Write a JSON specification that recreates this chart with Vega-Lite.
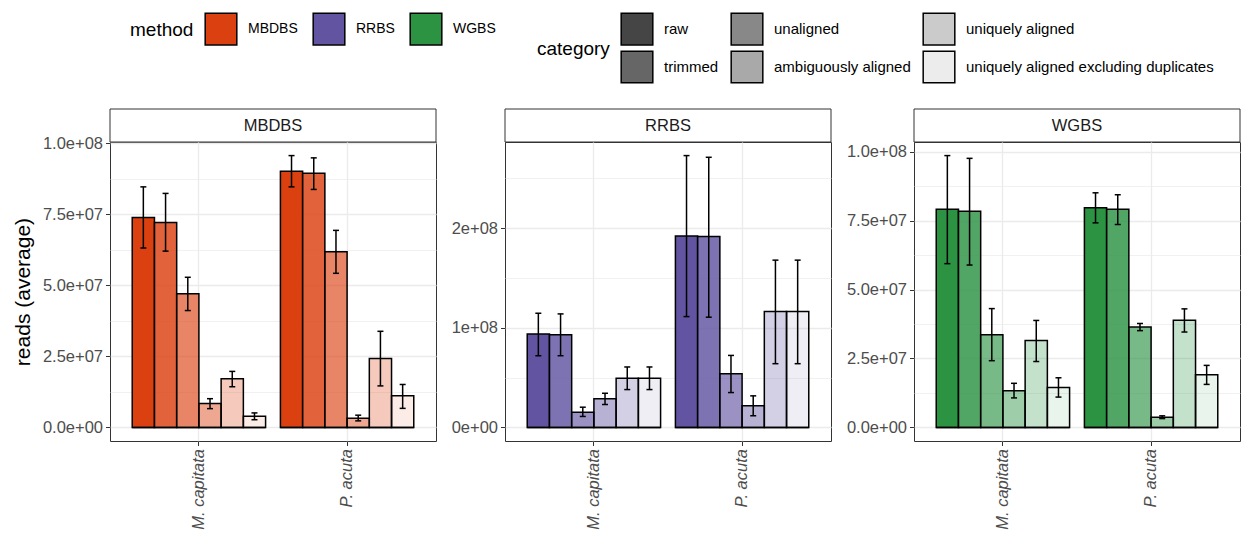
{
  "$schema": "https://vega.github.io/schema/vega-lite/v6.json",
  "background": "white",
  "padding": {"left": 11, "top": 12, "right": 0, "bottom": 0},
  "spacing": 13,
  "datasets": {
    "reads": [
      {"method": "MBDBS", "species": "M. capitata", "category": "raw", "reads": 73800000, "lo": 63100000, "hi": 84600000},
      {"method": "MBDBS", "species": "M. capitata", "category": "trimmed", "reads": 72100000, "lo": 62000000, "hi": 82300000},
      {"method": "MBDBS", "species": "M. capitata", "category": "unaligned", "reads": 47000000, "lo": 41100000, "hi": 52800000},
      {"method": "MBDBS", "species": "M. capitata", "category": "ambiguously aligned", "reads": 8400000, "lo": 6600000, "hi": 10100000},
      {"method": "MBDBS", "species": "M. capitata", "category": "uniquely aligned", "reads": 17100000, "lo": 14300000, "hi": 19700000},
      {"method": "MBDBS", "species": "M. capitata", "category": "uniquely aligned excluding duplicates", "reads": 3950000, "lo": 2700000, "hi": 5100000},
      {"method": "MBDBS", "species": "P. acuta", "category": "raw", "reads": 90100000, "lo": 84600000, "hi": 95600000},
      {"method": "MBDBS", "species": "P. acuta", "category": "trimmed", "reads": 89400000, "lo": 83700000, "hi": 94800000},
      {"method": "MBDBS", "species": "P. acuta", "category": "unaligned", "reads": 61800000, "lo": 54200000, "hi": 69300000},
      {"method": "MBDBS", "species": "P. acuta", "category": "ambiguously aligned", "reads": 3250000, "lo": 2300000, "hi": 4300000},
      {"method": "MBDBS", "species": "P. acuta", "category": "uniquely aligned", "reads": 24200000, "lo": 14600000, "hi": 33800000},
      {"method": "MBDBS", "species": "P. acuta", "category": "uniquely aligned excluding duplicates", "reads": 11100000, "lo": 6700000, "hi": 15100000},
      {"method": "RRBS", "species": "M. capitata", "category": "raw", "reads": 93700000, "lo": 72000000, "hi": 114700000},
      {"method": "RRBS", "species": "M. capitata", "category": "trimmed", "reads": 93000000, "lo": 72000000, "hi": 114000000},
      {"method": "RRBS", "species": "M. capitata", "category": "unaligned", "reads": 15300000, "lo": 11000000, "hi": 20300000},
      {"method": "RRBS", "species": "M. capitata", "category": "ambiguously aligned", "reads": 28700000, "lo": 23000000, "hi": 34300000},
      {"method": "RRBS", "species": "M. capitata", "category": "uniquely aligned", "reads": 49300000, "lo": 38000000, "hi": 60700000},
      {"method": "RRBS", "species": "M. capitata", "category": "uniquely aligned excluding duplicates", "reads": 49300000, "lo": 38000000, "hi": 60700000},
      {"method": "RRBS", "species": "P. acuta", "category": "raw", "reads": 192300000, "lo": 111300000, "hi": 273000000},
      {"method": "RRBS", "species": "P. acuta", "category": "trimmed", "reads": 191700000, "lo": 110700000, "hi": 271300000},
      {"method": "RRBS", "species": "P. acuta", "category": "unaligned", "reads": 54000000, "lo": 35000000, "hi": 72300000},
      {"method": "RRBS", "species": "P. acuta", "category": "ambiguously aligned", "reads": 21700000, "lo": 11700000, "hi": 31700000},
      {"method": "RRBS", "species": "P. acuta", "category": "uniquely aligned", "reads": 116300000, "lo": 64000000, "hi": 168000000},
      {"method": "RRBS", "species": "P. acuta", "category": "uniquely aligned excluding duplicates", "reads": 116300000, "lo": 64000000, "hi": 168000000},
      {"method": "WGBS", "species": "M. capitata", "category": "raw", "reads": 79100000, "lo": 59400000, "hi": 98600000},
      {"method": "WGBS", "species": "M. capitata", "category": "trimmed", "reads": 78400000, "lo": 58900000, "hi": 97600000},
      {"method": "WGBS", "species": "M. capitata", "category": "unaligned", "reads": 33600000, "lo": 24200000, "hi": 43100000},
      {"method": "WGBS", "species": "M. capitata", "category": "ambiguously aligned", "reads": 13300000, "lo": 10700000, "hi": 16000000},
      {"method": "WGBS", "species": "M. capitata", "category": "uniquely aligned", "reads": 31500000, "lo": 23900000, "hi": 38800000},
      {"method": "WGBS", "species": "M. capitata", "category": "uniquely aligned excluding duplicates", "reads": 14500000, "lo": 11000000, "hi": 18000000},
      {"method": "WGBS", "species": "P. acuta", "category": "raw", "reads": 79700000, "lo": 74200000, "hi": 85100000},
      {"method": "WGBS", "species": "P. acuta", "category": "trimmed", "reads": 79100000, "lo": 73600000, "hi": 84400000},
      {"method": "WGBS", "species": "P. acuta", "category": "unaligned", "reads": 36400000, "lo": 35100000, "hi": 37700000},
      {"method": "WGBS", "species": "P. acuta", "category": "ambiguously aligned", "reads": 3700000, "lo": 3200000, "hi": 4200000},
      {"method": "WGBS", "species": "P. acuta", "category": "uniquely aligned", "reads": 38900000, "lo": 34600000, "hi": 43000000},
      {"method": "WGBS", "species": "P. acuta", "category": "uniquely aligned excluding duplicates", "reads": 19100000, "lo": 15600000, "hi": 22500000}
    ]
  },
  "data": {"name": "reads"},
  "hconcat": [
    {
      "bounds": "flush",
      "spacing": 0,
      "vconcat": [
        {
          "width": 326, "height": 33,
          "transform": [{"filter": "datum.method === 'MBDBS'"}, {"aggregate": [{"op": "count", "as": "n"}], "groupby": ["method"]}],
          "layer": [
            {"mark": {"type": "rect", "fill": "white", "stroke": "#333333", "strokeWidth": 1}, "encoding": {}},
            {"mark": {"type": "text", "fontSize": 16.5, "color": "#1a1a1a"}, "encoding": {"text": {"field": "method"}}}
          ]
        },
        {
          "width": 326, "height": 299,
          "transform": [{"filter": "datum.method === 'MBDBS'"}],
          "layer": [
            {
              "mark": {"type": "bar", "stroke": "black", "strokeWidth": 1.5},
              "encoding": {
                "x": {"field": "species", "type": "nominal", "scale": {"paddingInner": 0.1, "paddingOuter": 0.15}, "axis": {"title": null, "labelAngle": -90, "labelFontStyle": "italic", "bandPosition": 0.5, "grid": true}},
                "xOffset": {"field": "category", "type": "nominal", "scale": {"domain": ["raw", "trimmed", "unaligned", "ambiguously aligned", "uniquely aligned", "uniquely aligned excluding duplicates"], "paddingInner": 0, "paddingOuter": 0}},
                "y": {"field": "reads", "type": "quantitative", "scale": {"domain": [-4780000, 100380000], "nice": false, "zero": false}, "axis": {"title": "reads (average)", "titlePadding": 9, "titleFontSize": 21, "values": [0, 25000000, 50000000, 75000000, 100000000], "labelExpr": "replace(format(datum.value, '.1e'), 'e+', 'e+0')", "grid": true}},
                "y2": {"datum": 0},
                "color": {"field": "method", "type": "nominal", "scale": {"domain": ["MBDBS", "RRBS", "WGBS"], "range": ["#DA4010", "#6254A1", "#2C9343"]}, "legend": {"title": "method", "orient": "none", "legendX": 20, "legendY": -97, "direction": "horizontal", "titleOrient": "left", "titleAnchor": "middle", "titleBaseline": "middle", "titlePadding": 10, "symbolType": "square", "symbolSize": 1000, "symbolStrokeColor": "black", "symbolStrokeWidth": 1.5, "columnPadding": 12, "labelOffset": 10}},
                "fillOpacity": {"field": "category", "type": "nominal", "scale": {"type": "ordinal", "domain": ["raw", "trimmed", "unaligned", "ambiguously aligned", "uniquely aligned", "uniquely aligned excluding duplicates"], "range": [1, 0.82, 0.64, 0.46, 0.28, 0.1]}, "legend": null}
              }
            },
            {
              "mark": {"type": "bar", "stroke": "black", "strokeWidth": 1.5},
              "encoding": {
                "x": {"field": "species", "type": "nominal"},
                "xOffset": {"field": "category", "type": "nominal"},
                "y": {"datum": 0, "type": "quantitative", "axis": null},
                "y2": {"datum": 0},
                "fill": {"field": "category", "type": "nominal", "scale": {"domain": ["raw", "trimmed", "unaligned", "ambiguously aligned", "uniquely aligned", "uniquely aligned excluding duplicates"], "range": ["#454545", "#666666", "#888888", "#a9a9a9", "#cbcbcb", "#ececec"]}, "legend": {"title": "category", "orient": "none", "legendX": 427, "legendY": -97, "columns": 3, "titleOrient": "left", "titleAnchor": "middle", "titleBaseline": "middle", "titlePadding": 10, "symbolType": "square", "symbolSize": 1000, "symbolStrokeColor": "black", "symbolStrokeWidth": 1.5, "rowPadding": 0, "columnPadding": 9, "labelOffset": 10, "labelLimit": 400, "labelFontSize": 15}}
              }
            },
            {
              "mark": {"type": "rule", "color": "black", "strokeWidth": 1.5},
              "encoding": {
                "x": {"field": "species", "type": "nominal"},
                "xOffset": {"field": "category", "type": "nominal"},
                "y": {"field": "lo", "type": "quantitative", "axis": {"title": null, "values": [12500000, 37500000, 62500000, 87500000], "labels": false, "ticks": false, "domain": false, "grid": true, "gridWidth": 0.7, "orient": "left"}},
                "y2": {"field": "hi"}
              }
            },
            {
              "mark": {"type": "tick", "color": "black", "size": 6, "thickness": 1.5, "opacity": 1},
              "encoding": {
                "x": {"field": "species", "type": "nominal"},
                "xOffset": {"field": "category", "type": "nominal"},
                "y": {"field": "lo", "type": "quantitative", "axis": null}
              }
            },
            {
              "mark": {"type": "tick", "color": "black", "size": 6, "thickness": 1.5, "opacity": 1},
              "encoding": {
                "x": {"field": "species", "type": "nominal"},
                "xOffset": {"field": "category", "type": "nominal"},
                "y": {"field": "hi", "type": "quantitative", "axis": null}
              }
            }
          ],
          "resolve": {"axis": {"y": "independent"}}
        }
      ]
    },
    {
      "bounds": "flush",
      "spacing": 0,
      "vconcat": [
        {
          "width": 326, "height": 33,
          "transform": [{"filter": "datum.method === 'RRBS'"}, {"aggregate": [{"op": "count", "as": "n"}], "groupby": ["method"]}],
          "layer": [
            {"mark": {"type": "rect", "fill": "white", "stroke": "#333333", "strokeWidth": 1}, "encoding": {}},
            {"mark": {"type": "text", "fontSize": 16.5, "color": "#1a1a1a"}, "encoding": {"text": {"field": "method"}}}
          ]
        },
        {
          "width": 326, "height": 299,
          "transform": [{"filter": "datum.method === 'RRBS'"}],
          "layer": [
            {
              "mark": {"type": "bar", "stroke": "black", "strokeWidth": 1.5},
              "encoding": {
                "x": {"field": "species", "type": "nominal", "scale": {"paddingInner": 0.1, "paddingOuter": 0.15}, "axis": {"title": null, "labelAngle": -90, "labelFontStyle": "italic", "bandPosition": 0.5, "grid": true}},
                "xOffset": {"field": "category", "type": "nominal", "scale": {"domain": ["raw", "trimmed", "unaligned", "ambiguously aligned", "uniquely aligned", "uniquely aligned excluding duplicates"], "paddingInner": 0, "paddingOuter": 0}},
                "y": {"field": "reads", "type": "quantitative", "scale": {"domain": [-13650000, 286650000], "nice": false, "zero": false}, "axis": {"title": null, "values": [0, 100000000, 200000000], "labelExpr": "replace(format(datum.value, '.0e'), 'e+', 'e+0')", "grid": true}},
                "y2": {"datum": 0},
                "color": {"field": "method", "type": "nominal", "scale": {"domain": ["MBDBS", "RRBS", "WGBS"], "range": ["#DA4010", "#6254A1", "#2C9343"]}, "legend": {"title": "method", "orient": "none", "legendX": 20, "legendY": -97, "direction": "horizontal", "titleOrient": "left", "titleAnchor": "middle", "titleBaseline": "middle", "titlePadding": 10, "symbolType": "square", "symbolSize": 1000, "symbolStrokeColor": "black", "symbolStrokeWidth": 1.5, "columnPadding": 12, "labelOffset": 10}},
                "fillOpacity": {"field": "category", "type": "nominal", "scale": {"type": "ordinal", "domain": ["raw", "trimmed", "unaligned", "ambiguously aligned", "uniquely aligned", "uniquely aligned excluding duplicates"], "range": [1, 0.82, 0.64, 0.46, 0.28, 0.1]}, "legend": null}
              }
            },
            {
              "mark": {"type": "bar", "stroke": "black", "strokeWidth": 1.5},
              "encoding": {
                "x": {"field": "species", "type": "nominal"},
                "xOffset": {"field": "category", "type": "nominal"},
                "y": {"datum": 0, "type": "quantitative", "axis": null},
                "y2": {"datum": 0},
                "fill": {"field": "category", "type": "nominal", "scale": {"domain": ["raw", "trimmed", "unaligned", "ambiguously aligned", "uniquely aligned", "uniquely aligned excluding duplicates"], "range": ["#454545", "#666666", "#888888", "#a9a9a9", "#cbcbcb", "#ececec"]}, "legend": {"title": "category", "orient": "none", "legendX": 427, "legendY": -97, "columns": 3, "titleOrient": "left", "titleAnchor": "middle", "titleBaseline": "middle", "titlePadding": 10, "symbolType": "square", "symbolSize": 1000, "symbolStrokeColor": "black", "symbolStrokeWidth": 1.5, "rowPadding": 0, "columnPadding": 9, "labelOffset": 10, "labelLimit": 400, "labelFontSize": 15}}
              }
            },
            {
              "mark": {"type": "rule", "color": "black", "strokeWidth": 1.5},
              "encoding": {
                "x": {"field": "species", "type": "nominal"},
                "xOffset": {"field": "category", "type": "nominal"},
                "y": {"field": "lo", "type": "quantitative", "axis": {"title": null, "values": [50000000, 150000000, 250000000], "labels": false, "ticks": false, "domain": false, "grid": true, "gridWidth": 0.7, "orient": "left"}},
                "y2": {"field": "hi"}
              }
            },
            {
              "mark": {"type": "tick", "color": "black", "size": 6, "thickness": 1.5, "opacity": 1},
              "encoding": {
                "x": {"field": "species", "type": "nominal"},
                "xOffset": {"field": "category", "type": "nominal"},
                "y": {"field": "lo", "type": "quantitative", "axis": null}
              }
            },
            {
              "mark": {"type": "tick", "color": "black", "size": 6, "thickness": 1.5, "opacity": 1},
              "encoding": {
                "x": {"field": "species", "type": "nominal"},
                "xOffset": {"field": "category", "type": "nominal"},
                "y": {"field": "hi", "type": "quantitative", "axis": null}
              }
            }
          ],
          "resolve": {"axis": {"y": "independent"}}
        }
      ]
    },
    {
      "bounds": "flush",
      "spacing": 0,
      "vconcat": [
        {
          "width": 326, "height": 33,
          "transform": [{"filter": "datum.method === 'WGBS'"}, {"aggregate": [{"op": "count", "as": "n"}], "groupby": ["method"]}],
          "layer": [
            {"mark": {"type": "rect", "fill": "white", "stroke": "#333333", "strokeWidth": 1}, "encoding": {}},
            {"mark": {"type": "text", "fontSize": 16.5, "color": "#1a1a1a"}, "encoding": {"text": {"field": "method"}}}
          ]
        },
        {
          "width": 326, "height": 299,
          "transform": [{"filter": "datum.method === 'WGBS'"}],
          "layer": [
            {
              "mark": {"type": "bar", "stroke": "black", "strokeWidth": 1.5},
              "encoding": {
                "x": {"field": "species", "type": "nominal", "scale": {"paddingInner": 0.1, "paddingOuter": 0.15}, "axis": {"title": null, "labelAngle": -90, "labelFontStyle": "italic", "bandPosition": 0.5, "grid": true}},
                "xOffset": {"field": "category", "type": "nominal", "scale": {"domain": ["raw", "trimmed", "unaligned", "ambiguously aligned", "uniquely aligned", "uniquely aligned excluding duplicates"], "paddingInner": 0, "paddingOuter": 0}},
                "y": {"field": "reads", "type": "quantitative", "scale": {"domain": [-4930000, 103530000], "nice": false, "zero": false}, "axis": {"title": null, "values": [0, 25000000, 50000000, 75000000, 100000000], "labelExpr": "replace(format(datum.value, '.1e'), 'e+', 'e+0')", "grid": true}},
                "y2": {"datum": 0},
                "color": {"field": "method", "type": "nominal", "scale": {"domain": ["MBDBS", "RRBS", "WGBS"], "range": ["#DA4010", "#6254A1", "#2C9343"]}, "legend": {"title": "method", "orient": "none", "legendX": 20, "legendY": -97, "direction": "horizontal", "titleOrient": "left", "titleAnchor": "middle", "titleBaseline": "middle", "titlePadding": 10, "symbolType": "square", "symbolSize": 1000, "symbolStrokeColor": "black", "symbolStrokeWidth": 1.5, "columnPadding": 12, "labelOffset": 10}},
                "fillOpacity": {"field": "category", "type": "nominal", "scale": {"type": "ordinal", "domain": ["raw", "trimmed", "unaligned", "ambiguously aligned", "uniquely aligned", "uniquely aligned excluding duplicates"], "range": [1, 0.82, 0.64, 0.46, 0.28, 0.1]}, "legend": null}
              }
            },
            {
              "mark": {"type": "bar", "stroke": "black", "strokeWidth": 1.5},
              "encoding": {
                "x": {"field": "species", "type": "nominal"},
                "xOffset": {"field": "category", "type": "nominal"},
                "y": {"datum": 0, "type": "quantitative", "axis": null},
                "y2": {"datum": 0},
                "fill": {"field": "category", "type": "nominal", "scale": {"domain": ["raw", "trimmed", "unaligned", "ambiguously aligned", "uniquely aligned", "uniquely aligned excluding duplicates"], "range": ["#454545", "#666666", "#888888", "#a9a9a9", "#cbcbcb", "#ececec"]}, "legend": {"title": "category", "orient": "none", "legendX": 427, "legendY": -97, "columns": 3, "titleOrient": "left", "titleAnchor": "middle", "titleBaseline": "middle", "titlePadding": 10, "symbolType": "square", "symbolSize": 1000, "symbolStrokeColor": "black", "symbolStrokeWidth": 1.5, "rowPadding": 0, "columnPadding": 9, "labelOffset": 10, "labelLimit": 400, "labelFontSize": 15}}
              }
            },
            {
              "mark": {"type": "rule", "color": "black", "strokeWidth": 1.5},
              "encoding": {
                "x": {"field": "species", "type": "nominal"},
                "xOffset": {"field": "category", "type": "nominal"},
                "y": {"field": "lo", "type": "quantitative", "axis": {"title": null, "values": [12500000, 37500000, 62500000, 87500000], "labels": false, "ticks": false, "domain": false, "grid": true, "gridWidth": 0.7, "orient": "left"}},
                "y2": {"field": "hi"}
              }
            },
            {
              "mark": {"type": "tick", "color": "black", "size": 6, "thickness": 1.5, "opacity": 1},
              "encoding": {
                "x": {"field": "species", "type": "nominal"},
                "xOffset": {"field": "category", "type": "nominal"},
                "y": {"field": "lo", "type": "quantitative", "axis": null}
              }
            },
            {
              "mark": {"type": "tick", "color": "black", "size": 6, "thickness": 1.5, "opacity": 1},
              "encoding": {
                "x": {"field": "species", "type": "nominal"},
                "xOffset": {"field": "category", "type": "nominal"},
                "y": {"field": "hi", "type": "quantitative", "axis": null}
              }
            }
          ],
          "resolve": {"axis": {"y": "independent"}}
        }
      ]
    }
  ],
  "config": {
    "font": "Liberation Sans",
    "view": {"stroke": "#333333", "strokeWidth": 1},
    "axis": {"labelColor": "#4d4d4d", "labelFontSize": 16.5, "tickColor": "#333333", "tickSize": 4.5, "tickWidth": 1, "domain": false, "gridColor": "#ebebeb", "gridWidth": 1.3, "titleFontSize": 19, "titleFontWeight": "normal", "titleColor": "black", "labelPadding": 3},
    "legend": {"labelFontSize": 14, "titleFontSize": 19, "titleFontWeight": "normal", "labelColor": "black", "titleColor": "black"}
  }
}
